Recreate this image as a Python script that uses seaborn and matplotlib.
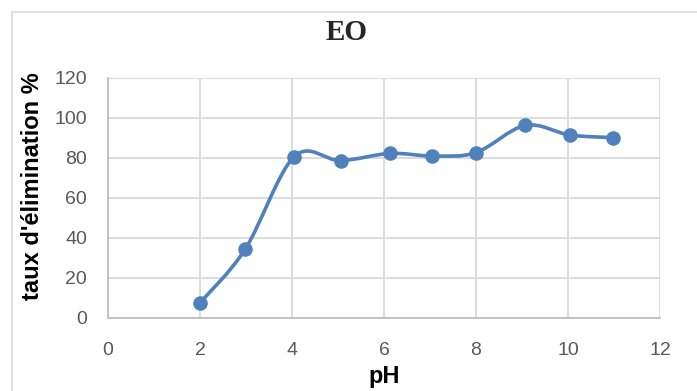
from matplotlib import pyplot as plt
from matplotlib.path import Path
from matplotlib.patches import PathPatch
import matplotlib.lines as mlines
import seaborn as sns
import numpy as np

ph = [2.0, 2.98, 4.05, 5.06, 6.13, 7.05, 8.0, 9.07, 10.04, 10.97]
taux = [7.6, 34.3, 80.7, 78.7, 82.3, 81.0, 82.7, 96.3, 91.5, 90.2]

title = "EO"
xlabel = "pH"
ylabel = "taux d'élimination %"

BLUE = '#4F81BD'
GRID = '#D9D9D9'
TICK = '#595959'

sns.set_theme(style="whitegrid")
plt.rcParams['font.family'] = ['Liberation Sans', 'DejaVu Sans']

fig = plt.figure(figsize=(6.97, 3.91), dpi=100)
ax = fig.add_axes([108/697, 73/391, 552/697, 240/391])


def smooth_path(xs, ys):
    # excel-like smoothed line: cubic bezier, control points from neighbours
    pts = np.column_stack([xs, ys])
    n = len(pts)
    verts = [pts[0]]
    codes = [Path.MOVETO]
    for i in range(n - 1):
        p0 = pts[max(i - 1, 0)]
        p1 = pts[i]
        p2 = pts[i + 1]
        p3 = pts[min(i + 2, n - 1)]
        c1 = p1 + (p2 - p0) / 6.0
        c2 = p2 - (p3 - p1) / 6.0
        verts += [c1, c2, p2]
        codes += [Path.CURVE4] * 3
    return Path(verts, codes)


ax.add_patch(PathPatch(smooth_path(ph, taux), facecolor='none', edgecolor=BLUE,
                       lw=2.6, capstyle='round', joinstyle='round', zorder=3))
sns.scatterplot(x=ph, y=taux, ax=ax, color=BLUE, s=110, edgecolor=BLUE, linewidth=0, zorder=4)

ax.set_xlim(0, 12)
ax.set_ylim(0, 120)
ax.set_xticks(range(0, 13, 2))
ax.set_yticks(range(0, 121, 20))
ax.grid(True, color=GRID, lw=1.3)
ax.set_facecolor('white')
for side in ['top', 'right']:
    ax.spines[side].set_visible(False)
for side in ['left', 'bottom']:
    ax.spines[side].set_color('#BFBFBF')
    ax.spines[side].set_linewidth(1.3)
ax.tick_params(axis='both', length=0, labelsize=14, labelcolor=TICK)
ax.tick_params(axis='x', pad=17)
ax.tick_params(axis='y', pad=15)

ax.set_xlabel(xlabel, fontsize=17, fontweight='bold', color='black')
ax.xaxis.set_label_coords(0.5, -(377 - 318) / 240, transform=ax.transAxes)
ax.xaxis.label.set_va('center')
ax.set_ylabel(ylabel, fontsize=17, fontweight='bold', color='black')
ax.yaxis.set_label_coords(-(108 - 33) / 552, (318 - 186) / 240, transform=ax.transAxes)
ax.yaxis.label.set_va('center')
fig.text(347/697, 1 - 32/391, title, ha='center', va='center', fontsize=21,
         fontweight='bold', family=['Liberation Serif', 'DejaVu Serif'])

# chart area border (left and top edges visible)
fig.add_artist(mlines.Line2D([12/697, 12/697], [0, 1 - 12/391], color=GRID, lw=1.2))
fig.add_artist(mlines.Line2D([12/697, 1], [1 - 12/391, 1 - 12/391], color=GRID, lw=1.2))

fig.savefig('out.png', dpi=100, facecolor='white')
